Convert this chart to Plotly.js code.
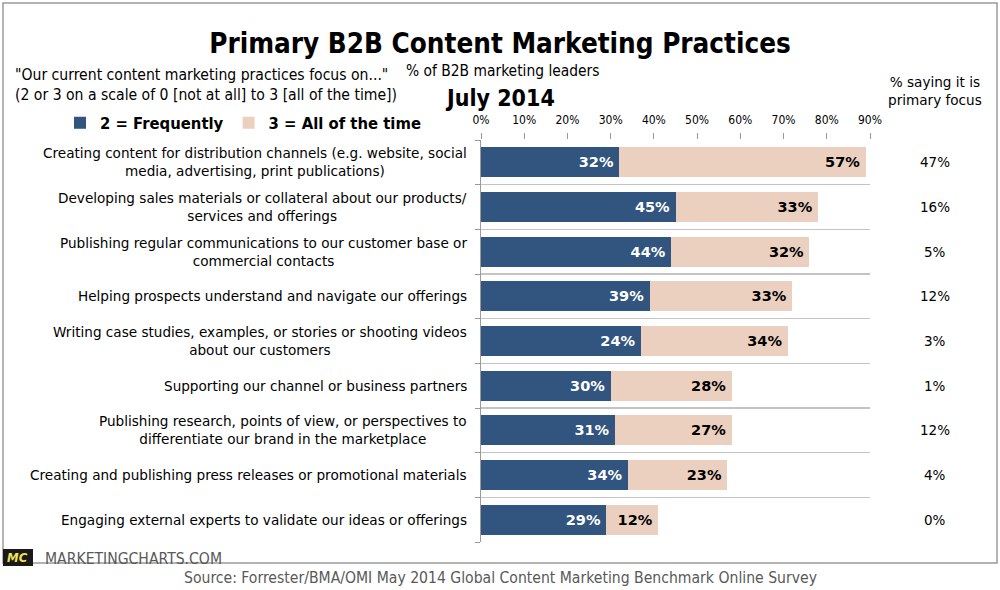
<!DOCTYPE html>
<html><head><meta charset="utf-8">
<script src="https://cdn.plot.ly/plotly-3.0.1.min.js"></script>
<style>html,body{margin:0;padding:0;background:#fff}#chart{width:1000px;height:590px}</style>
</head><body><div id="chart"></div>
<script>
const categories = [
  "Creating content for distribution channels (e.g. website, social<br>media, advertising, print publications)",
  "Developing sales materials or collateral about our products/<br>services and offerings",
  "Publishing regular communications to our customer base or<br>commercial contacts",
  "Helping prospects understand and navigate our offerings",
  "Writing case studies, examples, or stories or shooting videos<br>about our customers",
  "Supporting our channel or business partners",
  "Publishing research, points of view, or perspectives to<br>differentiate our brand in the marketplace",
  "Creating and publishing press releases or promotional materials",
  "Engaging external experts to validate our ideas or offerings"
];
// bar lengths as drawn in the picture
const frequently = [32, 45, 44, 39, 37, 30, 31, 34, 29];
const allTheTime = [57, 33, 32, 33, 34, 28, 27, 23, 12];
// value labels as printed in the picture
const frequentlyLabels = ["32%", "45%", "44%", "39%", "24%", "30%", "31%", "34%", "29%"];
const allTheTimeLabels = ["57%", "33%", "32%", "33%", "34%", "28%", "27%", "23%", "12%"];
const primaryFocus = ["47%", "16%", "5%", "12%", "3%", "1%", "12%", "4%", "0%"];
const xTicks = [0, 10, 20, 30, 40, 50, 60, 70, 80, 90];
const xTickLabels = ["0%", "10%", "20%", "30%", "40%", "50%", "60%", "70%", "80%", "90%"];

// plot area in pixels
const L = 481, R = 870, T = 140, B = 542;
const px = x => (x - L) / (R - L);
const py = y => (B - y) / (B - T);

const idx = categories.map((_, i) => i);
const cond = "DejaVu Sans Condensed, DejaVu Sans, sans-serif";
const sans = "DejaVu Sans, Verdana, sans-serif";
const pad = s => s + '\u2009';

const traces = [
  {
    type: 'bar', orientation: 'h', name: '2 = Frequently',
    y: idx, x: frequently, width: 0.67,
    marker: {color: '#31557e'},
    text: frequentlyLabels.map(pad), textposition: 'inside', insidetextanchor: 'end',
    textfont: {family: sans, size: 14.5, color: '#ffffff', weight: 'bold'},
    hoverinfo: 'skip'
  },
  {
    type: 'bar', orientation: 'h', name: '3 = All of the time',
    y: idx, x: allTheTime, width: 0.67,
    marker: {color: '#ebd0c0'},
    text: allTheTimeLabels.map(pad), textposition: 'inside', insidetextanchor: 'end',
    textfont: {family: sans, size: 14.5, color: '#000000', weight: 'bold'},
    hoverinfo: 'skip'
  }
];

const annotations = [];
categories.forEach((c, i) => {
  annotations.push({xref: 'paper', yref: 'y', x: px(469), y: i, xanchor: 'right', yanchor: 'middle',
    align: 'center', text: c, showarrow: false, font: {family: sans, size: 13.6, color: '#000'}});
  annotations.push({xref: 'paper', yref: 'y', x: px(935), y: i, xanchor: 'center', yanchor: 'middle',
    text: primaryFocus[i], showarrow: false, font: {family: sans, size: 13.5, color: '#000'}});
});
annotations.push(
  {xref: 'paper', yref: 'paper', x: px(935), y: py(91), xanchor: 'center', yanchor: 'middle', align: 'center',
   text: '% saying it is<br>primary focus', showarrow: false, font: {family: sans, size: 13.6, color: '#000'}},
  {xref: 'paper', yref: 'paper', x: px(13), y: py(85), xanchor: 'left', yanchor: 'middle', align: 'left',
   text: '"Our current content marketing practices focus on..."<br>(2 or 3 on a scale of 0 [not at all] to 3 [all of the time])',
   showarrow: false, font: {family: cond, size: 15.6, color: '#000'}},
  {xref: 'paper', yref: 'paper', x: px(404), y: py(71), xanchor: 'left', yanchor: 'middle',
   text: '% of B2B marketing leaders', showarrow: false, font: {family: cond, size: 15.4, color: '#000'}},
  {xref: 'paper', yref: 'paper', x: px(500), y: py(98), xanchor: 'center', yanchor: 'middle',
   text: '<b>July 2014</b>', showarrow: false, font: {family: cond, size: 23, color: '#000'}},
  {xref: 'paper', yref: 'paper', x: px(43), y: py(559), xanchor: 'left', yanchor: 'middle',
   text: 'MARKETINGCHARTS.COM', showarrow: false, font: {family: cond, size: 15.6, color: '#595959'}},
  {xref: 'paper', yref: 'paper', x: px(18), y: py(557), xanchor: 'center', yanchor: 'middle',
   text: '<b><i>MC</i></b>', showarrow: false, font: {family: cond, size: 13, color: '#f2e25a'}},
  {xref: 'paper', yref: 'paper', x: px(500), y: py(578), xanchor: 'center', yanchor: 'middle',
   text: 'Source: Forrester/BMA/OMI May 2014 Global Content Marketing Benchmark Online Survey', showarrow: false,
   font: {family: cond, size: 15.6, color: '#595959'}}
);

const layout = {
  width: 1000, height: 590,
  margin: {l: L, r: 1000 - R, t: T, b: 590 - B, pad: 0},
  paper_bgcolor: '#fff', plot_bgcolor: '#fff',
  barmode: 'stack', bargap: 0.3,
  title: {text: '<b>Primary B2B Content Marketing Practices</b>', x: 0.5, xanchor: 'center',
          y: 1 - 43 / 590, yanchor: 'middle', yref: 'container',
          font: {family: cond, size: 27.6, color: '#000'}},
  xaxis: {side: 'top', range: [0, 90], tickvals: xTicks, ticktext: xTickLabels,
          showgrid: false, zeroline: false, showline: false, ticks: 'outside', ticklen: 6,
          tickcolor: '#9a9a9a', ticklabelstandoff: 4, fixedrange: true,
          tickfont: {family: cond, size: 12, color: '#000'}},
  yaxis: {range: [8.5, -0.5], showticklabels: false, showgrid: false, zeroline: false,
          showline: true, linecolor: '#9a9a9a', linewidth: 1, ticks: '',
          minor: {tick0: 0.5, dtick: 1, showgrid: true, gridcolor: '#c4c4c4', gridwidth: 1.5,
                  ticks: 'outside', ticklen: 5, tickcolor: '#9a9a9a'}, fixedrange: true},
  showlegend: true,
  legend: {orientation: 'h', x: px(60), y: py(123), xanchor: 'left', yanchor: 'middle',
           font: {family: cond, size: 16.5, color: '#000', weight: 'bold'}, bgcolor: 'rgba(0,0,0,0)',
           traceorder: 'normal', itemwidth: 30, entrywidth: 0},
  shapes: [
    {type: 'rect', xref: 'paper', yref: 'paper', x0: px(3), x1: px(997), y0: py(563), y1: py(3),
     line: {color: '#9a9a9a', width: 1.5}, fillcolor: 'rgba(0,0,0,0)', layer: 'below'},
    {type: 'rect', xref: 'paper', yref: 'paper', x0: px(3), x1: px(33), y0: py(566), y1: py(549),
     line: {width: 0}, fillcolor: '#1a1a1a', layer: 'below'}
  ],
  annotations: annotations
};

Plotly.newPlot('chart', traces, layout, {staticPlot: true, displayModeBar: false});
</script></body></html>
